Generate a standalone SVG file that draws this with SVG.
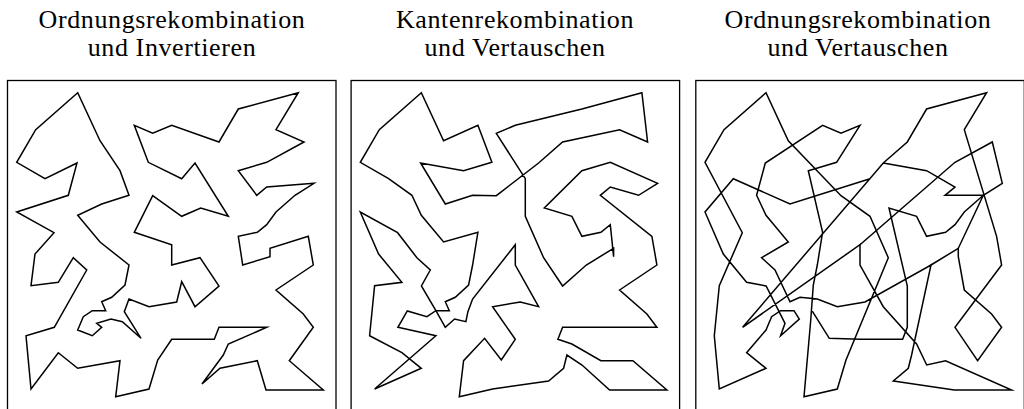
<svg xmlns="http://www.w3.org/2000/svg" width="1024" height="409" viewBox="0 0 1024 409">
<style>
.t{font-family:"Liberation Serif",serif;font-size:26px;letter-spacing:0.6px;fill:#000;text-anchor:middle}
.f{fill:none;stroke:#000;stroke-width:1.3}
.r{fill:none;stroke:#000;stroke-width:1.5;stroke-linejoin:miter;stroke-miterlimit:6;stroke-linecap:round}
</style>
<rect width="1024" height="409" fill="#fff"/>
<g id="titles">
<text class="t" x="172" y="28">Ordnungsrekombination</text>
<text class="t" x="172" y="56">und Invertieren</text>
<text class="t" x="515" y="28">Kantenrekombination</text>
<text class="t" x="515" y="56">und Vertauschen</text>
<text class="t" x="858" y="28">Ordnungsrekombination</text>
<text class="t" x="858" y="56">und Vertauschen</text>
</g>
<g id="panel1">
<rect class="f" x="7.5" y="80.5" width="328.5" height="330"/>
<polygon class="r" points="77.7,92.7 35.7,129.7 16.7,162.3 45,178.7 77,163 68.3,195.3 16.7,212 54,232.7 35,254 31,285.7 58.3,282.3 73.3,257.7 86.7,270 54.3,327.3 26,335.7 31,389 58.3,352.7 77.7,368.3 120,360.7 115.7,396.7 149,389 157.7,360 171.7,339.3 214.3,339.3 219,327.3 266.7,327.3 228.3,344 223.3,355 202,384 220,368.3 257.3,360.7 266,390 323.3,390 289.3,360.7 313.3,327.3 303.3,314 276,290 313.3,265 308.3,236.3 270,248.3 270,256.7 242.7,265 238.3,236.3 257.3,232.3 266.7,224.7 276,212 295,195.3 314,183.3 266.7,187 256.7,195.3 238.3,170.7 266.7,162.3 304,142 276,129.7 298.3,92.7 238.3,109 219,142 171.7,125.3 152.7,133.3 134.3,125.3 148.3,162.3 181.7,178.7 195,163 228.3,216.3 200.7,208 181.7,216.3 152.7,195.7 134.3,232.3 171.7,244.7 171.7,265 200,257.7 219,286 195,306.7 181.7,281.7 176.7,302 149,306.7 129,299 124.3,311.7 141,338.3 122.3,321.7 111,319 96.7,323.3 101.7,327.3 92.3,335.7 77.7,330 83.3,316.7 92.3,310.7 105.7,310.7 101.7,301.7 111.7,297.3 125,285 129,265 100,242 77.7,215.3 101.7,204 129,195.3 120,170.7 100,140.7"/>
</g>
<g id="panel2" transform="translate(343.6,0)">
<rect class="f" x="7.5" y="80.5" width="328.5" height="330"/>
<polygon class="r" points="77.7,92.7 35.7,129.7 16.7,162.3 45,178.7 68.3,195.3 77.7,215.3 100,242 134.3,232.3 129,265 125,285 111.7,297.3 101.7,301.7 105.7,310.7 92.3,310.7 83.3,316.7 63.7,311 54.3,327.3 92.3,335.7 31,389 77.7,368.3 58.3,352.7 26,335.7 31,285.7 58.3,282.3 35,254 16.7,212 54,232.7 73.3,257.7 86.7,270 77.8,286 92.3,310.7 101.7,327.3 111,319 122.3,321.7 124.3,311.7 129,299 171.7,244.7 171.7,265 195,306.7 176.7,302 149,306.7 171.7,339.3 157.7,360 141,338.3 120,360.7 115.7,396.7 149,389 205,381 220,368.3 223.3,355 238.4,365 266,390 323.3,390 289.3,360.7 257.3,360.7 228.3,344 214.3,339.3 219,327.3 313.3,327.3 303.3,314 276,290 313.3,265 308.3,236.3 256.7,195.3 266.7,187 295,195.3 314,183.3 266.7,162.3 238.3,170.7 200.7,208 228.3,216.3 238.3,236.3 257.3,232.3 266.7,224.7 270,256.7 270,248.3 242.7,265 219,286 200,257.7 181.7,216.3 181.7,178.7 152.7,133.3 171.7,125.3 238.3,109 298.3,92.7 304,142 276,129.7 219,142 195,163 152.7,195.7 129,195.3 101.7,204 77,163 120,170.7 148.3,162.3 134.3,125.3 100,140.7"/>
</g>
<g id="panel3" transform="translate(688.3,0)">
<rect class="f" x="7.5" y="80.5" width="328.5" height="330"/>
<polyline class="r" points="181.7,178.7 101.7,204 45,178.7 16.7,212 35,254 58.3,282.3 77.8,286 96.7,323.3 92.3,335.7 111,319 105.7,310.7 92.3,310.7 83.3,316.7 77.7,330 58.3,352.7 77.7,368.3 31,389 26,335.7 31,285.7 54,232.7 16.7,162.3 35.7,129.7 77.7,92.7 100,140.7 152.7,195.7 181.7,216.3 200,257.7 157.7,360 149,389 115.7,396.7 122.3,321.7 125,285 129,265 134.3,232.3 120,170.7 148.3,162.3 171.7,125.3 152.7,133.3 134.3,125.3 77,163 68.3,195.3 77.7,215.3 100,242 73.3,257.7 86.7,270 101.7,301.7 111.7,297.3 129,299 149,306.7 176.7,302 242.7,265 223.3,355 220,368.3 205,381 266,390 323.3,390 257.3,360.7 238.4,365 228.3,344 195,306.7 171.7,265 171.7,244.7 54.3,327.3 195,163 219,142 238.3,109 298.3,92.7 276,129.7 308.3,236.3 313.3,265 266.7,327.3 289.3,360.7 313.3,327.3 303.3,314 276,290 270,256.7 270,248.3 295,195.3 256.7,195.3 266.7,187 238.3,170.7 195,163"/>
<polyline class="r" points="242.7,265 270,248.3"/>
<polyline class="r" points="171.7,244.7 266.7,162.3 304,142 314,183.3 295,195.3 276,212 266.7,224.7 257.3,232.3 238.3,236.3 228.3,216.3 200.7,208 219,286 219,327.3 214.3,339.3 171.7,339.3 141,338.3 124.3,311.7"/>
</g>
</svg>
